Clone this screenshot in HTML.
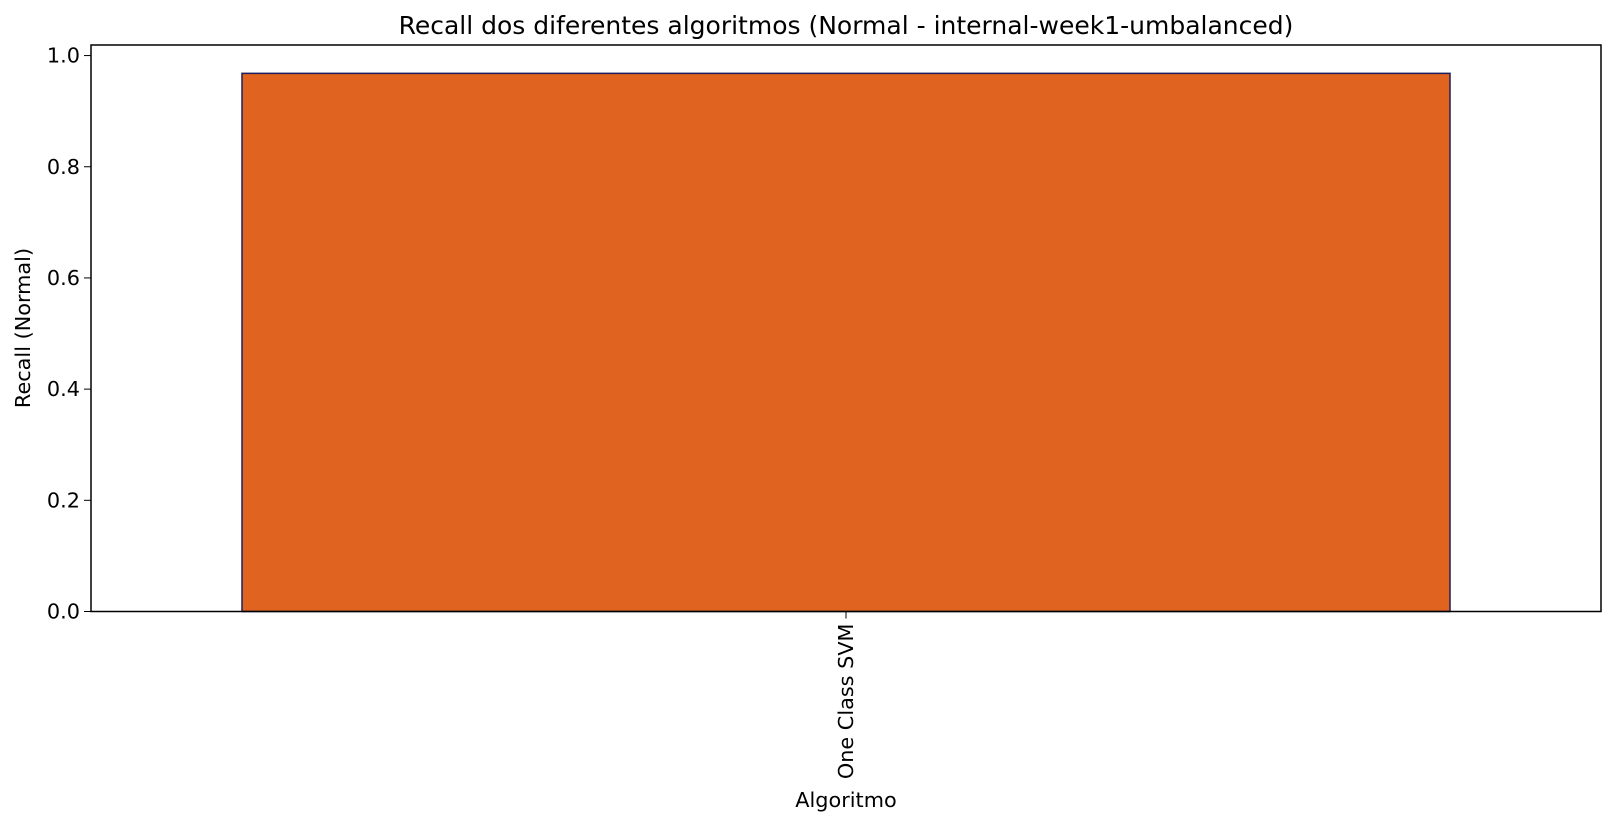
<!DOCTYPE html>
<html><head><meta charset="utf-8"><style>
body{margin:0;background:#fff;font-family:"DejaVu Sans","Liberation Sans",sans-serif}
</style></head><body>
<svg id="chart" width="1617" height="826" xmlns="http://www.w3.org/2000/svg" font-family="DejaVu Sans, Liberation Sans, sans-serif">
<text x="846" y="34" font-size="25" text-anchor="middle" fill="#000">Recall dos diferentes algoritmos (Normal - internal-week1-umbalanced)</text>
<g id="bars"></g>
<g id="yticks"></g>
<g id="xticks"></g>
<rect x="91" y="45" width="1510" height="566.5" fill="none" stroke="#000" stroke-width="1.5"/>
<text transform="translate(30,328) rotate(-90)" font-size="20.8" text-anchor="middle">Recall (Normal)</text>
<text x="846" y="807" font-size="20.8" text-anchor="middle">Algoritmo</text>
</svg>
<script>
const categories = ["One Class SVM"];
const recallValues = [0.968];
const yTickLabels = ["0.0","0.2","0.4","0.6","0.8","1.0"];
const yTickValues = [0,0.2,0.4,0.6,0.8,1.0];
const NS="http://www.w3.org/2000/svg";
const L=91,R=1601,T=45,B=611.5,yMax=1.019;
const y=v=>B-(v/yMax)*(B-T);
const n=categories.length;
const x=i=>L+(i+0.5)/n*(R-L);
const bw=0.8*(R-L)/n;
const bars=document.getElementById('bars'),yt=document.getElementById('yticks'),xt=document.getElementById('xticks');
categories.forEach((c,i)=>{
  const r=document.createElementNS(NS,'rect');
  
  
  r.setAttribute('x',x(i)-bw/2);r.setAttribute('y',y(recallValues[i]));
  r.setAttribute('width',bw);r.setAttribute('height',B-y(recallValues[i]));
  r.setAttribute('fill','#e06320');r.setAttribute('stroke','#1b1f5e');r.setAttribute('stroke-width','1.5');
  bars.appendChild(r);
  const tk=document.createElementNS(NS,'line');
  
  
  tk.setAttribute('x1',x(i));tk.setAttribute('x2',x(i));tk.setAttribute('y1',B);tk.setAttribute('y2',B+7);tk.setAttribute('stroke','#000');
  xt.appendChild(tk);
  const t=document.createElementNS(NS,'text');
  
  
  t.setAttribute('transform','translate('+(x(i)+7)+','+(B+12)+') rotate(-90)');
  t.setAttribute('font-size','20.8');t.setAttribute('text-anchor','end');
  t.textContent=c;xt.appendChild(t);
});
yTickValues.forEach((v,i)=>{
  const tk=document.createElementNS(NS,'line');
  
  
  tk.setAttribute('x1',L-7);tk.setAttribute('x2',L);tk.setAttribute('y1',y(v));tk.setAttribute('y2',y(v));tk.setAttribute('stroke','#000');
  yt.appendChild(tk);
  const t=document.createElementNS(NS,'text');
  
  
  t.setAttribute('x',L-11);t.setAttribute('y',y(v)+7);t.setAttribute('font-size','20.8');t.setAttribute('text-anchor','end');
  t.textContent=yTickLabels[i];yt.appendChild(t);
});
</script>
</body></html>
